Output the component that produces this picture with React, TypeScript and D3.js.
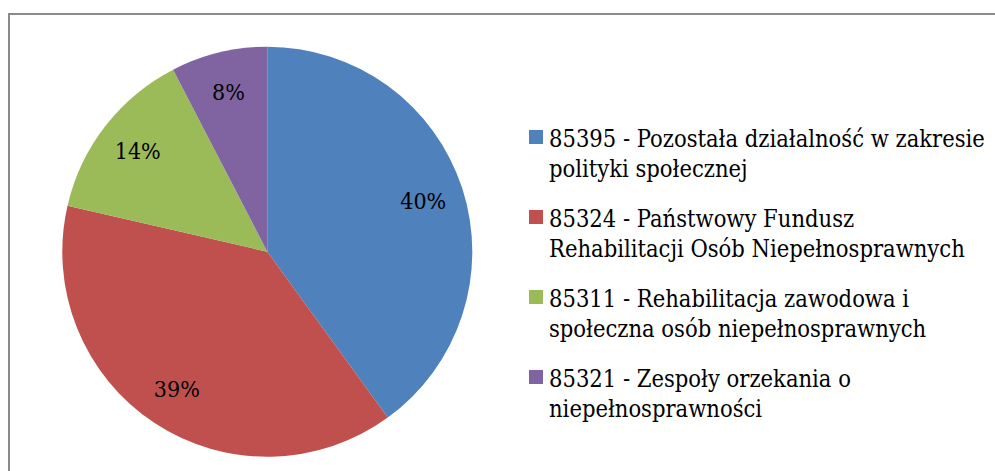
import React, { useEffect, useRef } from 'react';
import * as d3 from 'd3';

const categories: string[] = [
  '85395 - Pozostała działalność w zakresie|polityki społecznej',
  '85324 - Państwowy Fundusz|Rehabilitacji Osób Niepełnosprawnych',
  '85311 - Rehabilitacja zawodowa i|społeczna osób niepełnosprawnych',
  '85321 - Zespoły orzekania o|niepełnosprawności',
];
const shares: number[] = [40.0, 38.6, 13.8, 7.6];
const colors: string[] = ['#4f81bd', '#c0504d', '#9bbb59', '#8064a2'];

const W = 995;
const H = 471;
const FONT = "'DejaVu Serif Condensed', 'DejaVu Serif'";

type Slice = { name: string; value: number; color: string };

const App = () => {
  const svgRef = useRef<SVGSVGElement>(null);

  useEffect(() => {
    const data: Slice[] = categories.map((name, i) => ({
      name,
      value: shares[i],
      color: colors[i],
    }));

    const svg = d3.select(svgRef.current);
    svg.selectAll('*').remove();

    svg.append('rect').attr('width', W).attr('height', H).attr('fill', '#fff');

    // chart frame (runs off the right and bottom edges)
    svg
      .append('rect')
      .attr('x', 9)
      .attr('y', 14)
      .attr('width', W + 20)
      .attr('height', H + 20)
      .attr('fill', 'none')
      .attr('stroke', '#8a8a8a')
      .attr('stroke-width', 2);

    const cx = 267.3;
    const cy = 251.7;
    const r = 205;

    const pie = d3
      .pie<Slice>()
      .sort(null)
      .value(d => d.value);
    const arcs = pie(data);
    const total = d3.sum(data, d => d.value);

    const arc = d3.arc<d3.PieArcDatum<Slice>>().innerRadius(0).outerRadius(r);
    const labelArc = d3
      .arc<d3.PieArcDatum<Slice>>()
      .innerRadius(r * 0.8)
      .outerRadius(r * 0.8);

    const g = svg.append('g').attr('transform', `translate(${cx},${cy})`);

    g.selectAll('path.slice')
      .data(arcs)
      .join('path')
      .attr('class', 'slice')
      .attr('d', arc)
      .attr('fill', d => d.data.color);

    g.selectAll('text.pct')
      .data(arcs)
      .join('text')
      .attr('class', 'pct')
      .attr('transform', d => {
        const [x, y] = labelArc.centroid(d);
        return `translate(${x},${y})`;
      })
      .attr('text-anchor', 'middle')
      .attr('dy', '0.35em')
      .style('font-family', FONT)
      .style('font-stretch', 'condensed')
      .attr('font-size', 23)
      .attr('fill', '#000')
      .text(d => `${Math.round((d.data.value / total) * 100)}%`);

    // legend
    const legend = svg.append('g').attr('transform', 'translate(529,130)');
    const items = legend
      .selectAll('g.item')
      .data(data)
      .join('g')
      .attr('class', 'item')
      .attr('transform', (_, i) => `translate(0,${i * 80})`);

    items
      .append('rect')
      .attr('width', 14)
      .attr('height', 14)
      .attr('fill', d => d.color);

    items
      .append('text')
      .attr('x', 20)
      .attr('y', 16.7)
      .style('font-family', FONT)
      .style('font-stretch', 'condensed')
      .attr('font-size', 23.5)
      .attr('fill', '#000')
      .selectAll('tspan')
      .data(d => d.name.split('|'))
      .join('tspan')
      .attr('x', 20)
      .attr('dy', (_, i) => (i === 0 ? 0 : 30.3))
      .text(t => t);
  }, []);

  return (
    <svg
      ref={svgRef}
      width={W}
      height={H}
      style={{ position: 'absolute', left: 0, top: 0, display: 'block' }}
    />
  );
};

export default App;
